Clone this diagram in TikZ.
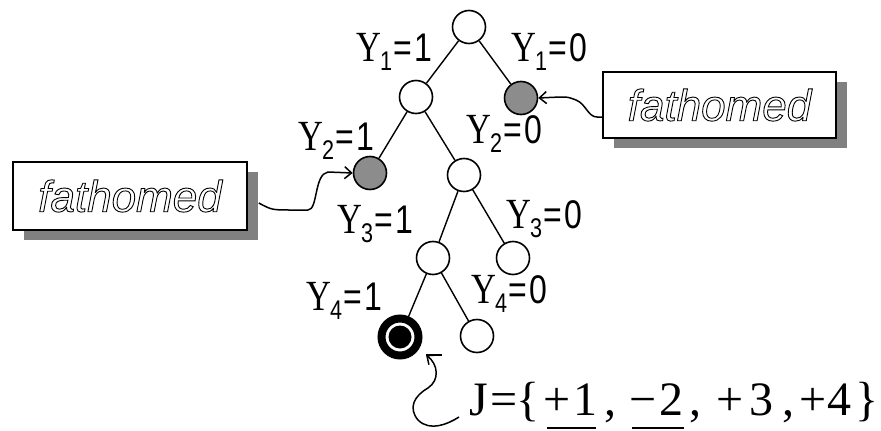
\documentclass[tikz,border=0pt]{standalone}
\usepackage{fontspec}
\setmainfont{Liberation Sans}
\newfontfamily\jserif{Liberation Serif}
\usetikzlibrary{arrows.meta,shadows}
\newcommand{\ylab}[2]{\scalebox{0.8}[1]{\fontsize{40}{40}\selectfont{\jserif\fontsize{43}{43}\selectfont Y}\kern-1pt\raisebox{-9pt}{\fontsize{27}{27}\selectfont #1}\kern1pt=\kern3pt#2}}
\newcommand{\jat}[2]{\rlap{\hskip#1pt #2}}
\newcommand{\outl}[1]{\special{pdf:literal direct 1 Tr 0.9 w}#1\special{pdf:literal direct 0 Tr}}
\tikzset{
  circ/.style={circle, draw, line width=1.6pt, minimum size=33pt, inner sep=0pt, fill=white},
  fath/.style={circ, fill=black!45},
  edge/.style={line width=1.4pt},
  lab/.style={anchor=base west, inner sep=0pt},
  fbox/.style={draw, line width=1.5pt, fill=white, inner sep=0pt,
    font=\fontsize{44}{44}\selectfont\itshape,
    drop shadow={shadow xshift=11pt, shadow yshift=-10pt, fill=black!50, opacity=1}},
  conn/.style={line width=1.5pt, -{Straight Barb[length=7pt,width=12pt,line width=1.5pt]}},
}
\begin{document}
\begin{tikzpicture}[x=1pt,y=-1pt]
\useasboundingbox (0,0) rectangle (881,431);
% tree nodes
\node[circ] (r) at (469,27) {};
\node[circ] (a) at (416,97) {};
\node[fath] (b) at (521,98) {};
\node[fath] (c) at (370,173) {};
\node[circ] (d) at (464,175) {};
\node[circ] (e) at (433,258) {};
\node[circ] (f) at (513,258) {};
\node[circle, draw, line width=8pt, minimum size=37pt, inner sep=0pt, fill=white] (g) at (400,337) {};
\fill (g.center) circle[radius=11.5pt];
\node[circ] (h) at (477,336) {};
% edges
\draw[edge] (r) -- (a);
\draw[edge] (r) -- (b);
\draw[edge] (a) -- (c);
\draw[edge] (a) -- (d);
\draw[edge] (d) -- (e);
\draw[edge] (d) -- (f);
\draw[edge] (e) -- (g);
\draw[edge] (e) -- (h);
% labels
\node[lab] (l1) at (356,61) {\ylab{1}{1}};
\node[lab] (l2) at (511,61) {\ylab{1}{0}};
\node[lab] (l3) at (298,150) {\ylab{2}{1}};
\node[lab] (l4) at (466,143) {\ylab{2}{0}};
\node[lab] (l5) at (337,233) {\ylab{3}{1}};
\node[lab] (l6) at (506,228) {\ylab{3}{0}};
\node[lab] (l7) at (306,310) {\ylab{4}{1}};
\node[lab] (l8) at (471,303) {\ylab{4}{0}};
% fathomed boxes
\node[fbox, minimum width=234pt, minimum height=68pt] (fL) at (130,196) {\outl{fathomed}};
\node[fbox, minimum width=233pt, minimum height=66pt] (fR) at (719.5,105) {\outl{fathomed}};
\coordinate (sL) at ([xshift=11pt,yshift=-7pt]fL.east);
\draw[conn] (sL) .. controls (272,210) .. (292,210) -- (308,210)
  .. controls (318,210) and (314,174) .. (328,172) -- (c.west);
\coordinate (sR) at ([yshift=-12pt]fR.west);
\draw[conn] (sR) -- (597,117) .. controls (588,117) and (586,104) .. (576,100)
  .. controls (568,97) .. (560,97) -- (b.east);
% J set
\node[anchor=base west, inner sep=0pt, font=\jserif\fontsize{48}{48}\selectfont] (J) at (469,415)
  {\hbox to 406pt{\jat{0}{J}\jat{21}{=}\jat{47}{\{}\jat{74}{+}\jat{104}{1}\jat{135}{,}%
   \jat{160}{−}\jat{190}{2}\jat{220}{,}\jat{247}{+}\jat{280}{3}\jat{313}{,}%
   \jat{330}{+}\jat{358}{4}\jat{386}{\}}%
   \jat{78}{\rule[-14pt]{49pt}{2.5pt}}\jat{163}{\rule[-14pt]{52pt}{2.5pt}}\hfill}};
\coordinate (tip) at (426,355);
\draw[line width=1.5pt, -{Straight Barb[length=7pt,width=12pt,line width=1.5pt]}]
  ([xshift=-10pt,yshift=-2pt]J.base west) .. controls (448,424) and (430,432) .. (418,420)
  .. controls (408,408) and (414,396) .. (428,388)
  .. controls (440,380) and (438,364) .. (tip);
\draw[line width=1.5pt] (tip) -- ++(16,0);
\end{tikzpicture}
\end{document}
